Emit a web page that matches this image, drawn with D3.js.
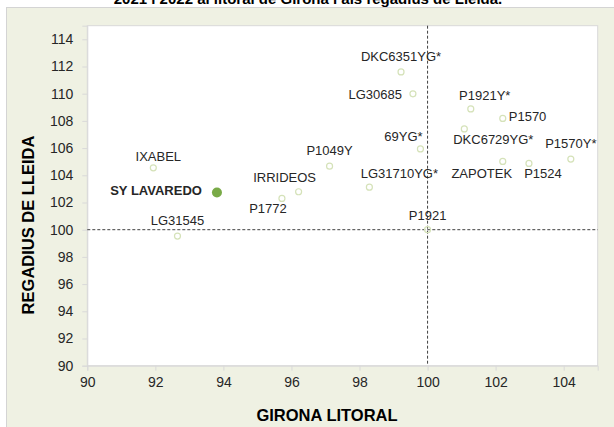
<!DOCTYPE html>
<html>
<head>
<meta charset="utf-8">
<script src="https://cdn.jsdelivr.net/npm/d3@7"></script>
<style>
  body { margin: 0; background: #fff; }
  svg text { font-family: "Liberation Sans", Arial, sans-serif; fill: #262626; }
</style>
</head>
<body>
<svg id="chart"></svg>
<script>
// varieties, x = Girona litoral, y = Regadius de Lleida
let varieties = ["IXABEL", "SY LAVAREDO", "P1772", "IRRIDEOS", "DKC6351YG*", "LG30685",
    "P1921Y*", "P1570", "DKC6729YG*", "69YG*", "P1049Y", "LG31710YG*", "ZAPOTEK",
    "P1524", "P1570Y*", "P1921", "LG31545"]
let girona = [91.94, 93.81, 95.72, 96.21, 99.22, 99.57, 101.27, 102.21, 101.08, 99.79,
    97.12, 98.29, 102.21, 102.98, 104.21, 100, 92.65]
let lleida = [104.55, 102.74, 102.30, 102.79, 111.60, 109.99, 108.88, 108.18, 107.41, 105.94,
    104.67, 103.13, 105.02, 104.87, 105.19, 100, 99.53]
let xTicks = [90, 92, 94, 96, 98, 100, 102, 104]
let yTicks = [90, 92, 94, 96, 98, 100, 102, 104, 106, 108, 110, 112, 114]
let highlighted = "SY LAVAREDO"
let reference = 100

// label offsets from the point: [dx, dy, anchor]
let labelPlace = [[5, -7, "middle"], [-15, 3, "end"], [-14, 15, "middle"], [-14, -10, "middle"],
    [0, -11, "middle"], [-11, 5, "end"], [14, -9, "middle"], [6, 3, "start"],
    [29, 15, "middle"], [-17, -8, "middle"], [0, -11, "middle"], [30, -9, "middle"],
    [-21, 17, "middle"], [14, 15, "middle"], [0, -11, "middle"], [0, -10, "middle"],
    [0, -11, "middle"]]

let data = varieties.map((v, i) => ({ name: v, x: girona[i], y: lleida[i], place: labelPlace[i] }))

let width = 614
let height = 427
let chart = d3.select("#chart").attr("width", width).attr("height", height)

// chart area background
chart.append("rect")
    .attr("x", 6.5).attr("y", 7.5)
    .attr("width", width).attr("height", height)
    .style("fill", "#eff1e3")
    .style("stroke", "#d4d4d4")

chart.append("text")
    .attr("x", 308).attr("y", 4)
    .style("text-anchor", "middle")
    .style("font-size", "15px")
    .style("font-weight", "bold")
    .style("fill", "#000")
    .text("2021 i 2022 al litoral de Girona i als regadius de Lleida.")

let xscale = d3.scaleLinear().domain([90, 105]).range([87.3, 597.7])
let yscale = d3.scaleLinear().domain([90, 115]).range([365.7, 25.7])

chart.append("rect")
    .attr("x", xscale(90)).attr("y", yscale(115))
    .attr("width", xscale(105) - xscale(90))
    .attr("height", yscale(90) - yscale(115))
    .style("fill", "#fff")
    .style("stroke", "#d9d9d9")

let xaxis = chart.append("g")
    .attr("transform", "translate(0," + yscale(90) + ")")
    .call(d3.axisBottom(xscale).tickValues(xTicks).tickSize(5).tickPadding(6))
let yaxis = chart.append("g")
    .attr("transform", "translate(" + xscale(90) + ",0)")
    .call(d3.axisLeft(yscale).tickValues(yTicks).tickSize(5).tickPadding(9))

for (let ax of [xaxis, yaxis]) {
    ax.select(".domain").style("stroke", "#d9d9d9")
    ax.selectAll(".tick line").style("stroke", "#d9d9d9")
    ax.selectAll(".tick text")
        .style("font-size", "14px")
        .style("font-family", "'Liberation Sans', Arial, sans-serif")
        .style("fill", "#262626")
}

// reference lines at 100
chart.append("line")
    .attr("x1", xscale(reference)).attr("x2", xscale(reference))
    .attr("y1", yscale(115)).attr("y2", yscale(90))
    .style("stroke", "#404040").style("stroke-dasharray", "3,2")
chart.append("line")
    .attr("x1", xscale(90)).attr("x2", xscale(105))
    .attr("y1", yscale(reference)).attr("y2", yscale(reference))
    .style("stroke", "#404040").style("stroke-dasharray", "3,2")

let circles = chart.selectAll("circle").data(data)
circles.enter().append("circle")
    .attr("cx", d => xscale(d.x))
    .attr("cy", d => yscale(d.y))
    .attr("r", d => d.name == highlighted ? 5 : 3)
    .style("fill", d => d.name == highlighted ? "#79aa47" : "none")
    .style("stroke", d => d.name == highlighted ? "none" : "#d5e2b9")
    .style("stroke-width", 1.2)

chart.selectAll("text.lbl").data(data)
    .enter().append("text")
    .attr("class", "lbl")
    .attr("x", d => xscale(d.x) + d.place[0])
    .attr("y", d => yscale(d.y) + d.place[1])
    .style("text-anchor", d => d.place[2])
    .style("font-size", "13px")
    .style("font-weight", d => d.name == highlighted ? "bold" : "normal")
    .text(d => d.name)

chart.append("text")
    .attr("transform", "translate(327,421)")
    .style("text-anchor", "middle")
    .style("font-size", "16.5px")
    .style("font-weight", "bold")
    .style("fill", "#000")
    .text("GIRONA LITORAL")

chart.append("text")
    .attr("transform", "translate(34,225) rotate(-90)")
    .style("text-anchor", "middle")
    .style("font-size", "16.5px")
    .style("font-weight", "bold")
    .style("fill", "#000")
    .text("REGADIUS DE LLEIDA")
</script>
</body>
</html>
